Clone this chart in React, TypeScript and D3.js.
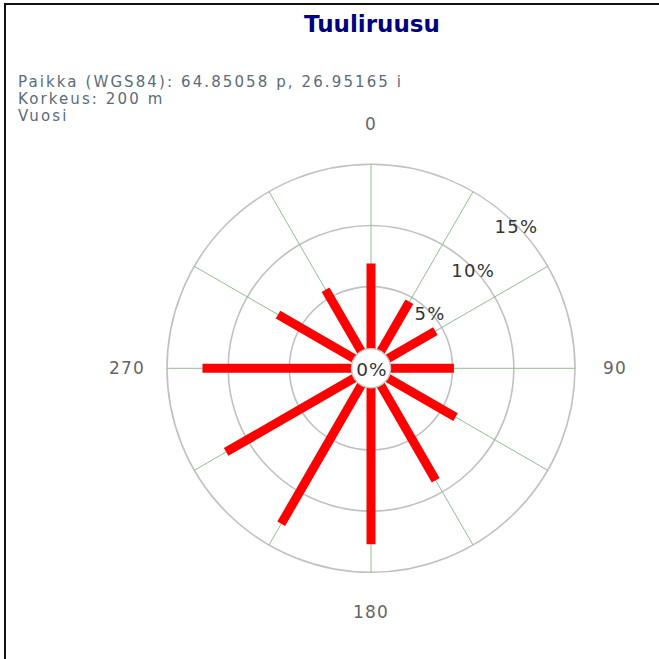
import React from "react";
import * as d3 from "d3";

const title = "Tuuliruusu";
const subtitleLines = ["Paikka (WGS84): 64.85058 p, 26.95165 i", "Korkeus: 200 m", "Vuosi"];
const directions = [0, 30, 60, 90, 120, 150, 180, 210, 240, 270, 300, 330];
const frequencies = [6.9, 4.6, 4.4, 5.1, 6.3, 8.9, 12.7, 13.0, 12.0, 12.1, 7.1, 5.75];
const ringTicks = [5, 10, 15];
const axisLabels = [0, 90, 180, 270];

export default function App() {
  const W = 659, H = 659;
  const cx = 371, cy = 368.3;
  const r0 = 20.5;
  const rMax = 204;
  const r = d3.scaleLinear().domain([0, 15]).range([r0, rMax]);
  const ang = (deg: number) => (deg * Math.PI) / 180;
  const pt = (deg: number, rad: number): [number, number] => [
    cx + rad * Math.sin(ang(deg)),
    cy - rad * Math.cos(ang(deg)),
  ];
  const font = "'DejaVu Sans', Verdana, sans-serif";

  return (
    <svg width={W} height={H} style={{ position: "fixed", left: 0, top: 0, background: "#fff" }}>
      <rect x={0} y={0} width={W} height={H} fill="#fff" />
      <line x1={5} y1={4} x2={W} y2={4} stroke="#111" strokeWidth={2} />
      <line x1={5} y1={3} x2={5} y2={H} stroke="#111" strokeWidth={2} />
      <text x={372} y={31.5} textAnchor="middle" fontFamily={font} fontWeight="bold" fontSize={23} fill="#000080">
        {title}
      </text>
      {subtitleLines.map((t, i) => (
        <text key={i} x={18} y={86.5 + i * 17.3} fontFamily={font} fontSize={15} letterSpacing={2.1} fill="#5b6b7b">
          {t}
        </text>
      ))}
      {/* rings */}
      {ringTicks.map((v) => (
        <circle key={v} cx={cx} cy={cy} r={r(v)} fill="none" stroke="#c0c0c0" strokeWidth={1.6} />
      ))}
      {/* spokes */}
      {directions.map((d) => {
        const [x1, y1] = pt(d, r0);
        const [x2, y2] = pt(d, rMax);
        return <line key={d} x1={x1} y1={y1} x2={x2} y2={y2} stroke="#8fbf8f" strokeWidth={1} />;
      })}
      {/* bars */}
      {directions.map((d, i) => {
        const [x1, y1] = pt(d, 0);
        const [x2, y2] = pt(d, r(frequencies[i]));
        return <line key={d} x1={x1} y1={y1} x2={x2} y2={y2} stroke="#ff0000" strokeWidth={9} strokeLinecap="butt" />;
      })}
      <circle cx={cx} cy={cy} r={r0 - 1} fill="#fff" stroke="#c8c8c8" strokeWidth={1.5} />
      <text x={cx + 1} y={cy + 1} textAnchor="middle" dominantBaseline="central" fontFamily={font} fontSize={18.5} letterSpacing={1} fill="#333">
        0%
      </text>
      {ringTicks.map((v) => {
        const [x, y] = pt(45, r(v) - 1);
        return (
          <text key={v} x={x + 2} y={y + 2} textAnchor="middle" dominantBaseline="central" fontFamily={font} fontSize={18} letterSpacing={1.3} fill="#333">
            {v}%
          </text>
        );
      })}
      {axisLabels.map((d) => {
        const [x, y] = pt(d, 244);
        return (
          <text key={d} x={x} y={y} textAnchor="middle" dominantBaseline="central" fontFamily={font} fontSize={17} letterSpacing={1.2} fill="#666">
            {d}
          </text>
        );
      })}
    </svg>
  );
}
